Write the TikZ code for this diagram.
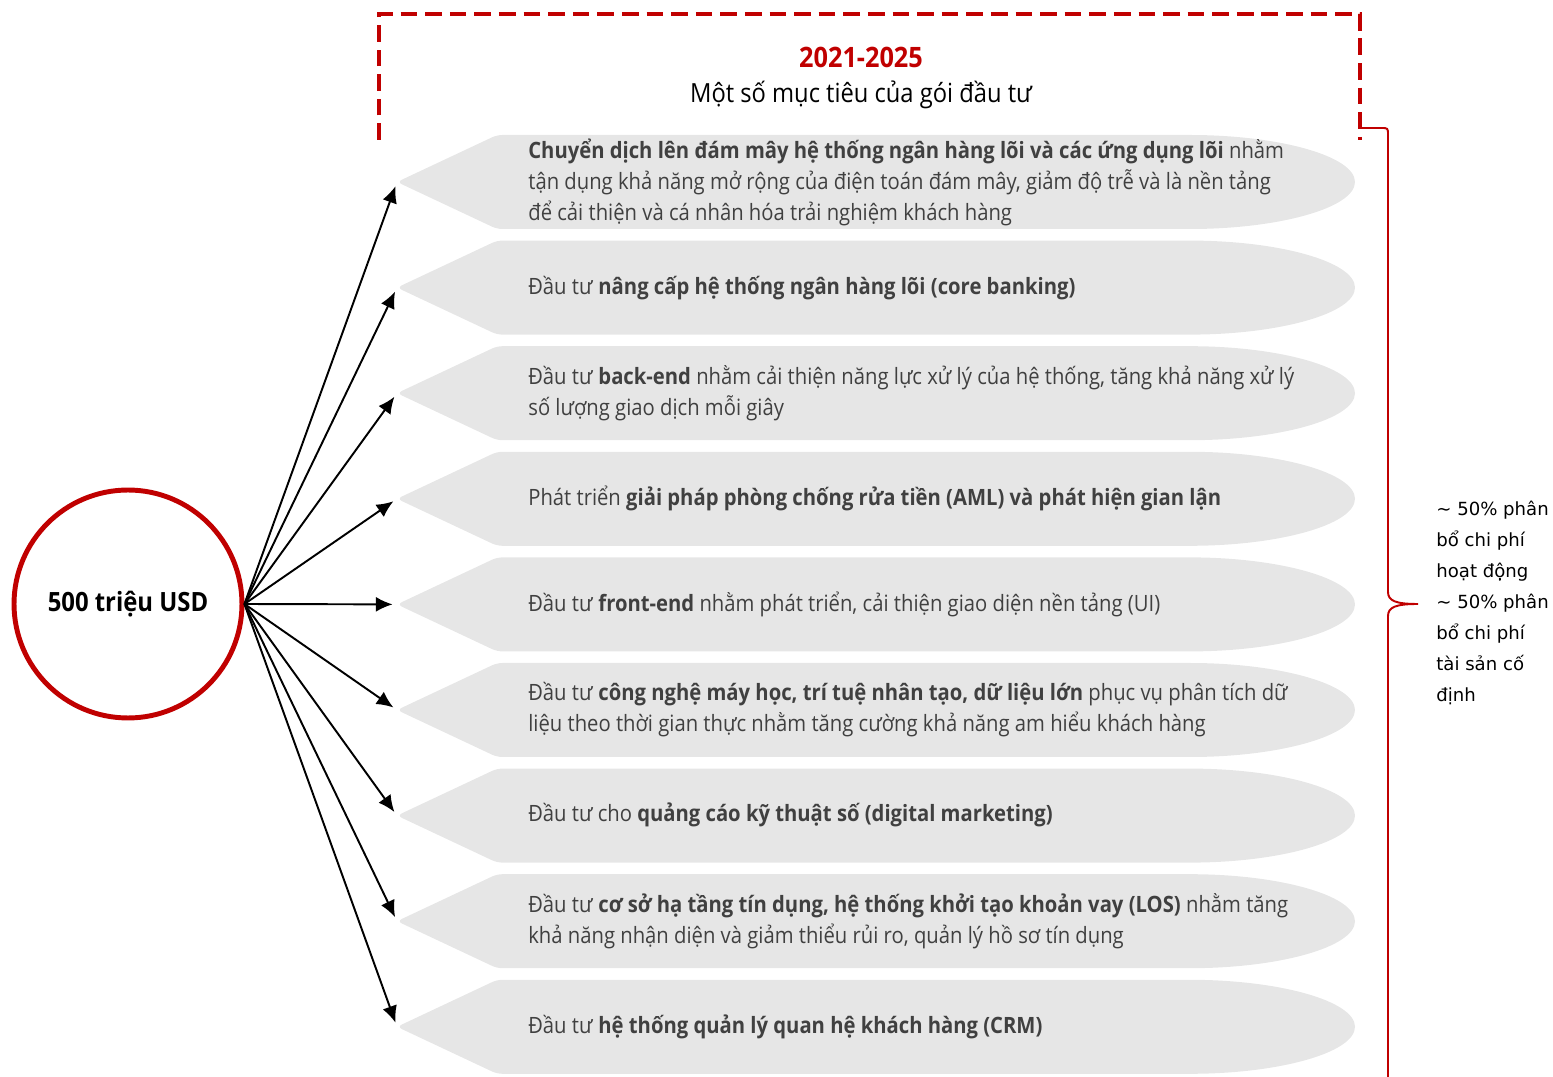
\documentclass[tikz,border=0pt]{standalone}
\usepackage{fontspec}
\setmainfont[FakeStretch=0.9]{Open Sans}
\newfontfamily\notefont{DejaVu Sans}
\usetikzlibrary{arrows.meta}
\definecolor{vcbred}{HTML}{C00000}
\definecolor{bannergray}{HTML}{E6E6E6}
\definecolor{textgray}{HTML}{404040}
\begin{document}
\begin{tikzpicture}[x=0.02cm,y=0.02cm,
banner/.style={fill=bannergray,rounded corners=3},
bantext/.style={anchor=west,align=left,inner sep=0,text=textgray,font=\fontsize{12.8}{17.6}\selectfont},
arr/.style={-{Latex[length=9.5pt,width=8.5pt]},line width=1.1pt,shorten >=2.5pt}]
\useasboundingbox(0,0) rectangle (1553,-1077);
\draw[vcbred,line width=2pt,dash pattern=on 9.5pt off 4.5pt](379,-140)--(379,-14)--(1360,-14)--(1360,-140);
\node[text=vcbred,font=\bfseries\fontsize{16}{18}\selectfont](period) at (861,-57){2021-2025};
\node[font=\fontsize{15}{17}\selectfont](goal) at (861,-95){Một số mục tiêu của gói đầu tư};
\foreach \y [count=\i] in {182,287.6,393.2,498.8,604.4,710,815.6,921.2,1026.8}{
\fill[banner](397,-\y)--++(100,47)--++(688,0) arc[start angle=90,end angle=-90,x radius=170,y radius=47]--++(-688,0)--cycle;
\coordinate(tip\i) at (397,-\y);}
\node[bantext](t1) at (528,-182){\textbf{Chuyển dịch lên đám mây hệ thống ngân hàng lõi và các ứng dụng lõi} nhằm\\tận dụng khả năng mở rộng của điện toán đám mây, giảm độ trễ và là nền tảng\\để cải thiện và cá nhân hóa trải nghiệm khách hàng};
\node[bantext](t2) at (528,-288){Đầu tư \textbf{nâng cấp hệ thống ngân hàng lõi (core banking)}};
\node[bantext](t3) at (528,-393){Đầu tư \textbf{back-end} nhằm cải thiện năng lực xử lý của hệ thống, tăng khả năng xử lý\\số lượng giao dịch mỗi giây};
\node[bantext](t4) at (528,-498){Phát triển \textbf{giải pháp phòng chống rửa tiền (AML) và phát hiện gian lận}};
\node[bantext](t5) at (528,-604){Đầu tư \textbf{front-end} nhằm phát triển, cải thiện giao diện nền tảng (UI)};
\node[bantext](t6) at (528,-710){Đầu tư \textbf{công nghệ máy học, trí tuệ nhân tạo, dữ liệu lớn} phục vụ phân tích dữ\\liệu theo thời gian thực nhằm tăng cường khả năng am hiểu khách hàng};
\node[bantext](t7) at (528,-815){Đầu tư cho \textbf{quảng cáo kỹ thuật số (digital marketing)}};
\node[bantext](t8) at (528,-921){Đầu tư \textbf{cơ sở hạ tầng tín dụng, hệ thống khởi tạo khoản vay (LOS)} nhằm tăng\\khả năng nhận diện và giảm thiểu rủi ro, quản lý hồ sơ tín dụng};
\node[bantext](t9) at (528,-1027){Đầu tư \textbf{hệ thống quản lý quan hệ khách hàng (CRM)}};
\node[circle,draw=vcbred,line width=2.8pt,minimum size=4.56cm,font=\bfseries\fontsize{15.1}{17}\selectfont](src) at (128,-604){500 triệu USD};
\foreach \i in {1,...,9}{\draw[arr](src.east)--(tip\i);}
\draw[vcbred,line width=1.1pt](1362,-128)--(1381,-128) .. controls (1388,-128) .. (1388,-135)--(1388,-592) .. controls (1388,-601) and (1396,-604) .. (1418,-604) .. controls (1396,-604) and (1388,-607) .. (1388,-616)--(1388,-1075) .. controls (1388,-1082) .. (1381,-1082)--(1362,-1082);
\node[anchor=west,align=left,inner sep=0,font=\notefont\fontsize{10.3}{17.7}\selectfont](note) at (1436,-603){\textasciitilde{} 50\% phân\\bổ chi phí\\hoạt động\\\textasciitilde{} 50\% phân\\bổ chi phí\\tài sản cố\\định};
\end{tikzpicture}
\end{document}
